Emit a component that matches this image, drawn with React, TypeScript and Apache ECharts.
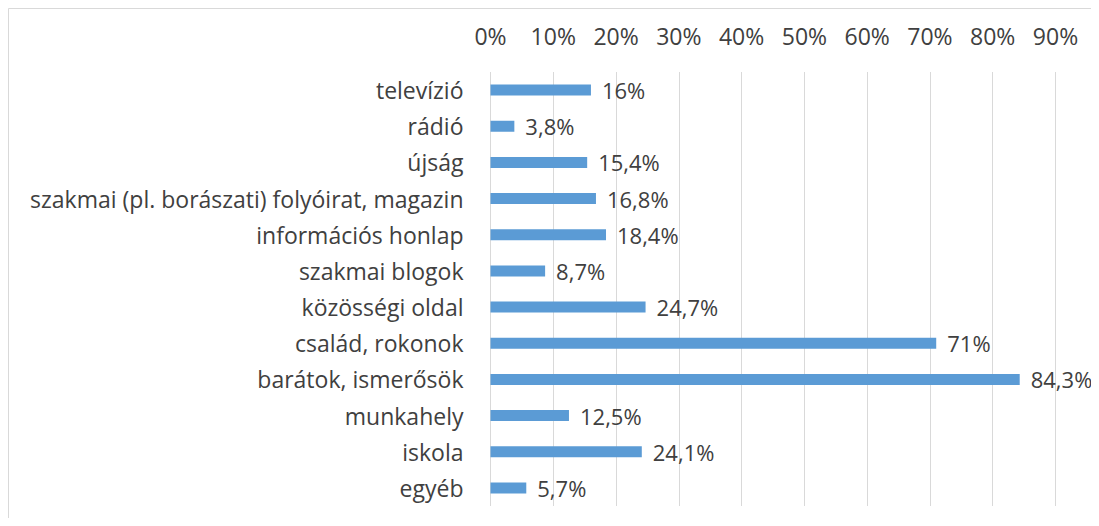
import React, { useEffect, useRef } from "react";
import * as echarts from "echarts";

const categories = [
  "televízió",
  "rádió",
  "újság",
  "szakmai (pl. borászati) folyóirat, magazin",
  "információs honlap",
  "szakmai blogok",
  "közösségi oldal",
  "család, rokonok",
  "barátok, ismerősök",
  "munkahely",
  "iskola",
  "egyéb",
];
const values = [16, 3.8, 15.4, 16.8, 18.4, 8.7, 24.7, 71, 84.3, 12.5, 24.1, 5.7];
const axisMin = 0;
const axisMax = 90;
const axisInterval = 10;

const FONT = "Open Sans";
const TEXT = "#404040";
const SIZE = 23;

export default function App() {
  const ref = useRef<HTMLDivElement>(null);
  useEffect(() => {
    if (!ref.current) return;
    document.body.style.overflow = "hidden";
    const chart = echarts.init(ref.current, undefined, { renderer: "svg" });
    chart.setOption({
      animation: false,
      backgroundColor: "#ffffff",
      graphic: [
        {
          type: "rect",
          shape: { x: 0.5, y: 0.5, width: 1200, height: 600 },
          style: { fill: "none", stroke: "#d9d9d9", lineWidth: 1 },
          silent: true,
        },
      ],
      grid: { left: 482.5, right: 43.5, top: 64, bottom: 12, containLabel: false },
      xAxis: {
        type: "value",
        position: "top",
        min: axisMin,
        max: axisMax,
        interval: axisInterval,
        axisLine: { show: false },
        axisTick: { show: false },
        axisLabel: {
          formatter: "{value}%",
          color: TEXT,
          fontFamily: FONT,
          fontSize: SIZE,
          margin: 25,
        },
        splitLine: { show: true, lineStyle: { color: "#d9d9d9", width: 1 } },
      },
      yAxis: {
        type: "category",
        inverse: true,
        data: categories,
        axisLine: { show: false },
        axisTick: { show: false },
        axisLabel: {
          color: TEXT,
          fontFamily: FONT,
          fontSize: SIZE,
          margin: 27,
        },
      },
      series: [
        {
          type: "bar",
          data: values,
          barWidth: 11,
          itemStyle: { color: "#5b9bd5" },
          label: {
            show: true,
            position: "right",
            distance: 11,
            color: TEXT,
            fontFamily: FONT,
            fontSize: 22,
            formatter: (p: any) => String(p.value).replace(".", ",") + "%",
          },
        },
      ],
    });
    return () => chart.dispose();
  }, []);
  return <div ref={ref} style={{ width: 1091, height: 510 }} />;
}
